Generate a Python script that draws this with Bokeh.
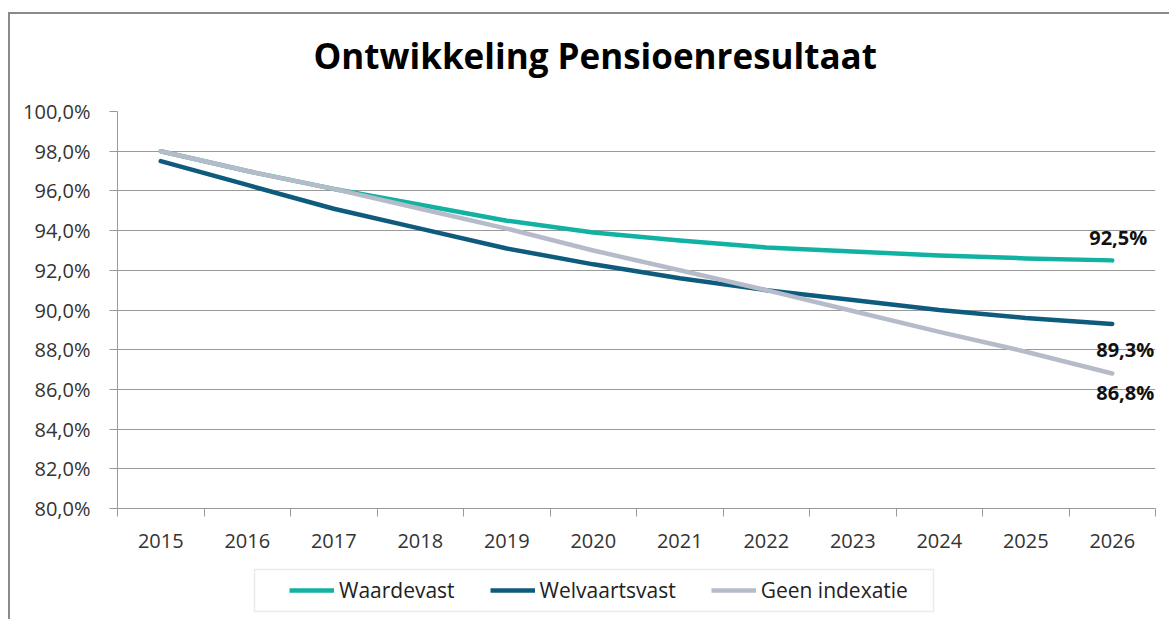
from bokeh.plotting import figure
from bokeh.layouts import column
from bokeh.models import (Range1d, FixedTicker, Legend, LegendItem, LabelSet,
                          ColumnDataSource, Title, BoxAnnotation)
from bokeh.core.properties import value
from bokeh.embed import file_html
from bokeh.resources import INLINE

# ---- data ----
years = [2015, 2016, 2017, 2018, 2019, 2020, 2021, 2022, 2023, 2024, 2025, 2026]
waardevast = [98.0, 97.0, 96.1, 95.3, 94.5, 93.9, 93.5, 93.15, 92.95, 92.75, 92.6, 92.5]
welvaartsvast = [97.5, 96.3, 95.1, 94.1, 93.1, 92.3, 91.6, 91.0, 90.5, 90.0, 89.6, 89.3]
geen_indexatie = [98.0, 97.0, 96.1, 95.1, 94.1, 93.0, 92.0, 91.0, 89.95, 88.9, 87.9, 86.8]
y_ticks = [80, 82, 84, 86, 88, 90, 92, 94, 96, 98, 100]
series_names = ["Waardevast", "Welvaartsvast", "Geen indexatie"]
title_text = "Ontwikkeling Pensioenresultaat"

colors = ["#12B2A2", "#0E5B7D", "#B5BBC9"]
FONT = "Open Sans"
GRID = "#9a9a9a"
series = [waardevast, welvaartsvast, geen_indexatie]

p = figure(width=1159, height=546, output_backend="svg", toolbar_location=None,
           x_range=Range1d(years[0] - 0.5, years[-1] + 0.5),
           y_range=Range1d(80, 100),
           min_border_left=107, min_border_right=14,
           min_border_top=97, min_border_bottom=52)
p.outline_line_color = None
p.background_fill_color = "white"
p.border_fill_color = "white"

# x axis: labels at category centers, ticks at category boundaries
p.xaxis.ticker = FixedTicker(ticks=years,
                             minor_ticks=[y - 0.5 for y in years] + [years[-1] + 0.5])
p.xaxis.major_label_overrides = {y: str(y) for y in years}
p.xaxis.major_tick_out = 0
p.xaxis.major_tick_in = 0
p.xaxis.minor_tick_out = 8
p.xaxis.minor_tick_in = 0
p.xaxis.minor_tick_line_color = GRID
p.xaxis.axis_line_color = GRID
p.xaxis.major_label_text_font = FONT
p.xaxis.major_label_text_font_size = "20px"
p.xaxis.major_label_text_color = "#333333"
p.xaxis.major_label_standoff = 17

p.yaxis.ticker = FixedTicker(ticks=y_ticks)
p.yaxis.major_label_overrides = {t: f"{t:.1f}%".replace(".", ",") for t in y_ticks}
p.yaxis.major_tick_out = 8
p.yaxis.major_tick_in = 0
p.yaxis.minor_tick_line_color = None
p.yaxis.major_tick_line_color = GRID
p.yaxis.axis_line_color = GRID
p.yaxis.major_label_text_font = FONT
p.yaxis.major_label_text_font_size = "20px"
p.yaxis.major_label_text_color = "#333333"
p.yaxis.major_label_standoff = 19

p.xgrid.grid_line_color = None
p.ygrid.grid_line_color = GRID
p.ygrid.grid_line_width = 1

for vals, c in zip(series, colors):
    p.line(years, vals, line_color=c, line_width=4.5, line_cap="round", line_join="round")

# end-point labels
ends = [s[-1] for s in series]
lab_src = ColumnDataSource(dict(
    x=[years[-1]] * 3,
    y=ends,
    text=[f"{v:.1f}%".replace(".", ",") for v in ends],
    xo=[6, 13, 13],
    yo=[23, -26, -19],
))
p.add_layout(LabelSet(x="x", y="y", text="text", source=lab_src, x_offset="xo", y_offset="yo",
                      text_font=value(FONT), text_font_size="20px", text_font_style="bold",
                      text_color="#111111", text_align="center", text_baseline="middle"))

# spacer between frame and title, then the title itself further out
p.add_layout(Title(text=" ", text_font_size="1px", standoff=20), "above")
p.add_layout(Title(text=title_text, text_font=FONT, text_font_size="35px",
                   text_font_style="bold", text_color="#000000", align="left",
                   offset=196, standoff=20), "above")

# legend strip (separate canvas so the legend is not clipped by the plot frame)
q = figure(width=1159, height=59, output_backend="svg", toolbar_location=None,
           x_range=Range1d(0, 1), y_range=Range1d(0, 1),
           x_axis_type=None, y_axis_type=None,
           min_border_left=0, min_border_right=0, min_border_top=0, min_border_bottom=0)
q.outline_line_color = None
q.xgrid.visible = False
q.ygrid.visible = False
q.border_fill_color = "white"
q.background_fill_color = "white"
leg_renderers = []
for vals, c in zip(series, colors):
    # same series, drawn on a range that keeps them out of view: only the legend glyph shows
    leg_renderers.append(q.line(years, vals, line_color=c, line_width=4.5))

legend = Legend(items=[LegendItem(label=n, renderers=[r]) for n, r in zip(series_names, leg_renderers)],
                orientation="horizontal", location=(172, 15), margin=0,
                glyph_width=45, glyph_height=20, label_height=22,
                label_standoff=5, spacing=35, padding=6,
                label_text_font=FONT, label_text_font_size="21px",
                label_text_color="#222222",
                border_line_color=None, background_fill_alpha=0)
q.add_layout(legend, "center")
# legend frame (wider than the legend's own padding allows)
q.add_layout(BoxAnnotation(left=244, right=923, top=9, bottom=51,
                           left_units="canvas", right_units="canvas",
                           top_units="canvas", bottom_units="canvas",
                           fill_alpha=0, line_color="#b8bccb", line_width=1.5))

layout = column(p, q, spacing=0)
layout.styles = {"border-left": "2px solid #8a8a8a", "border-top": "2px solid #8a8a8a",
                 "margin-top": "12px", "margin-left": "8px"}

open("out.html", "w").write(file_html(layout, INLINE))
